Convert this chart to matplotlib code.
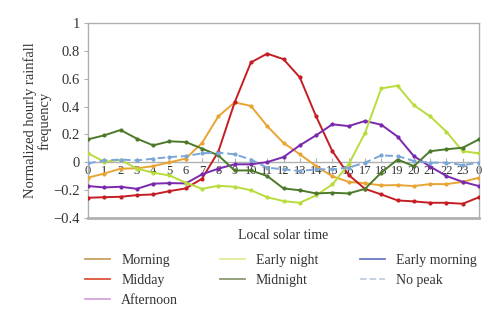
import numpy as np
import matplotlib.pyplot as plt
from matplotlib.lines import Line2D

plt.rcParams["font.family"] = ["Liberation Serif", "DejaVu Serif"]

# -- data --
hours = list(range(25))
hour_labels = [str(h % 24) for h in hours]

morning = [-0.11, -0.08, -0.045, -0.043, -0.027, 0.0, 0.027, 0.14, 0.33, 0.43, 0.405, 0.26,
           0.14, 0.058, -0.027, -0.10, -0.14, -0.15, -0.165, -0.163, -0.17, -0.156, -0.156, -0.14, -0.11]
midday = [-0.254, -0.25, -0.247, -0.235, -0.23, -0.206, -0.187, -0.117, 0.077, 0.43, 0.717, 0.78,
          0.74, 0.61, 0.33, 0.08, -0.09, -0.19, -0.23, -0.273, -0.28, -0.29, -0.29, -0.297, -0.25]
afternoon = [-0.17, -0.18, -0.175, -0.19, -0.153, -0.149, -0.151, -0.086, -0.045, -0.014, -0.014, 0.002,
             0.038, 0.122, 0.194, 0.273, 0.26, 0.297, 0.27, 0.185, 0.045, -0.03, -0.098, -0.14, -0.17]
early_night = [0.065, 0.005, 0.017, -0.045, -0.074, -0.094, -0.146, -0.19, -0.168, -0.175, -0.2, -0.25,
               -0.278, -0.29, -0.237, -0.158, -0.014, 0.21, 0.53, 0.55, 0.41, 0.33, 0.22, 0.08, 0.065]
midnight = [0.165, 0.194, 0.232, 0.17, 0.122, 0.151, 0.146, 0.099, 0.05, -0.058, -0.058, -0.098,
            -0.187, -0.2, -0.223, -0.218, -0.223, -0.19, -0.074, 0.02, -0.027, 0.08, 0.094, 0.105, 0.165]
early_morning = []  # listed in the legend, no line drawn
no_peak = [-0.007, 0.014, 0.02, 0.014, 0.026, 0.038, 0.045, 0.065, 0.07, 0.058, 0.02, -0.038,
           -0.05, -0.062, -0.05, -0.05, -0.038, -0.002, 0.05, 0.045, 0.01, -0.002, -0.002, -0.02, -0.002]

# name, values, plot colour, legend colour, style  (ordered column by column for the legend)
series = [
    ("Morning", morning, "#e8a534", "#c8a060", "-"),
    ("Midday", midday, "#c41e24", "#e0523c", "-"),
    ("Afternoon", afternoon, "#7a28ae", "#d4a4dc", "-"),
    ("Early night", early_night, "#b8dc3c", "#e4ec98", "-"),
    ("Midnight", midnight, "#4c7a2a", "#8c9a70", "-"),
    ("Early morning", early_morning, "#4050b0", "#6c7cc4", "-"),
    ("No peak", no_peak, "#7aa6d8", "#c4cede", "--"),
]

fig = plt.figure(figsize=(5, 3.28), dpi=100)
ax = fig.add_axes([0.176, 0.335, 0.782, 0.595])

for name, vals, col, lcol, ls in series:
    if len(vals):
        ax.plot(hours, vals, color=col, lw=1.4, ls=ls, marker="o", ms=2,
                dashes=(4, 2) if ls == "--" else (None, None), zorder=3)

ax.set_xlim(0, 24)
ax.set_ylim(-0.4, 1.0)
yt = np.arange(-0.4, 1.01, 0.2)
ax.set_yticks(yt)
ax.set_yticklabels(["\u22120.4", "\u22120.2", "0", "0.2", "0.4", "0.6", "0.8", "1"])

frame = "#b0b0b0"
for s in ax.spines.values():
    s.set_color(frame)
    s.set_linewidth(1.0)
ax.spines["bottom"].set_position(("data", 0))
ax.axhline(-0.4, color=frame, lw=2.0, clip_on=False, zorder=1)

ax.set_xticks(hours)
ax.set_xticklabels(hour_labels)
ax.tick_params(axis="x", direction="in", length=3, color=frame, pad=2, labelsize=9, labelcolor="#333333")
ax.tick_params(axis="y", direction="out", length=3, color=frame, pad=3, labelsize=10.5, labelcolor="#333333")

ax.set_ylabel("Normalized hourly rainfall\nfrequency", fontsize=10.5, color="#333333", linespacing=1.1)
ax.yaxis.set_label_coords(-0.092, 0.5)
fig.text(0.567, 0.283, "Local solar time", fontsize=10, color="#333333", ha="center", va="center")

handles = [Line2D([], [], color=lcol, lw=1.3, ls=ls) for _, _, _, lcol, ls in series]
labels = [s[0] for s in series]
fig.legend(handles, labels, ncol=3, loc="upper left", bbox_to_anchor=(0.17, 0.225),
           frameon=False, fontsize=10, handlelength=1.8, handletextpad=0.8,
           columnspacing=3.0, labelspacing=0.5, borderpad=0, borderaxespad=0,
           labelcolor="#333333")

fig.savefig("out.png", dpi=100)
